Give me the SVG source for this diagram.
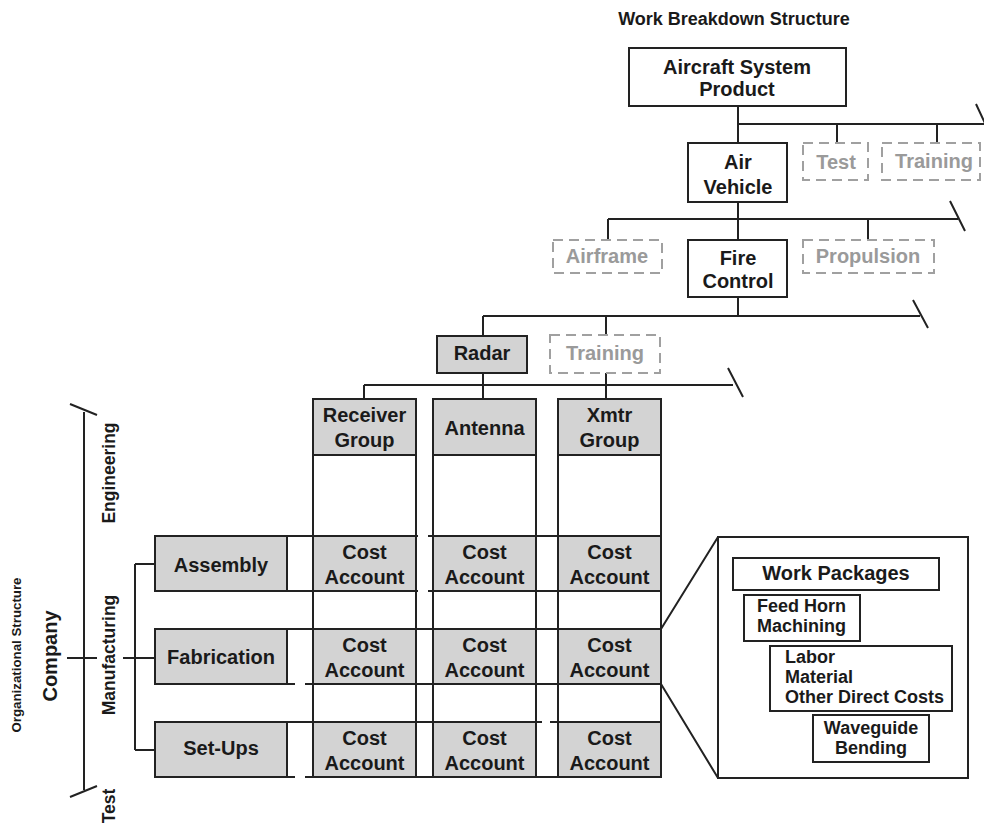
<svg xmlns="http://www.w3.org/2000/svg" width="984" height="825" viewBox="0 0 984 825">
<style>
text{font-family:"Liberation Sans",Arial,sans-serif;font-weight:bold;fill:#1a1a1a}
.n{font-size:20px;text-anchor:middle}
.s{font-size:18px}
.g{fill:#9a9a9a}
.box{fill:#fff;stroke:#222;stroke-width:2}
.gray{fill:#d3d3d3;stroke:#222;stroke-width:2}
.dash{fill:none;stroke:#a0a0a0;stroke-width:2;stroke-dasharray:10 6}
.ln{stroke:#222;stroke-width:2;fill:none}
</style>
<rect width="984" height="825" fill="#fff"/>
<text x="734" y="25" style="font-size:18px;text-anchor:middle">Work Breakdown Structure</text>

<g id="connectors" class="ln">
  <path d="M738 106V143M738 124H984M837 124V143M937 124V143M976 104L990 134"/>
  <path d="M738 202V240M608 219H958M608 219V240M868 219V240M950 201L965 231"/>
  <path d="M738 297V316M483 316H920M483 316V336M606 316V335M913 300L928 328"/>
  <path d="M483 373V399M364 385H733M364 385V399M606 373V399M728 368L743 397"/>
  <path d="M313 455V777M416 455V777M433 455V777M536 455V777M558 455V777M661 455V777"/>
  <path d="M287 536H313M416 536H418M428 536H433M536 536H558M287 591H313M416 591H418M428 591H433M536 591H558"/>
  <path d="M287 629H313M416 629H433M536 629H558M287 684H295M305 684H313M416 684H433M536 684H558"/>
  <path d="M287 722H313M416 722H433M536 722H542M550 722H558M287 777H295M305 777H313M416 777H433M536 777H558"/>
  <path d="M84 412V790M70 404L97 415M70 797L97 786M67 658H97"/>
  <path d="M123 658H155M135 564V750M135 564H155M135 750H155"/>
  <path d="M661 629L718 537M661 684L718 778"/>
</g>

<g id="aircraft"><rect class="box" x="629" y="48" width="217" height="58"/><text class="n" x="737" y="74">Aircraft System</text><text class="n" x="737" y="96">Product</text></g>
<g id="airvehicle"><rect class="box" x="688" y="143" width="99" height="59"/><text class="n" x="738" y="169">Air</text><text class="n" x="738" y="194">Vehicle</text></g>
<g id="test"><rect class="dash" x="803" y="143" width="65" height="37"/><text class="n g" x="836" y="169">Test</text></g>
<g id="training1"><rect class="dash" x="882" y="143" width="98" height="37"/><text class="n g" x="934" y="168">Training</text></g>
<g id="airframe"><rect class="dash" x="553" y="240" width="109" height="33"/><text class="n g" x="607" y="263">Airframe</text></g>
<g id="firecontrol"><rect class="box" x="688" y="240" width="99" height="57"/><text class="n" x="738" y="265">Fire</text><text class="n" x="738" y="288">Control</text></g>
<g id="propulsion"><rect class="dash" x="803" y="240" width="131" height="33"/><text class="n g" x="868" y="263">Propulsion</text></g>
<g id="radar"><rect class="gray" x="437" y="336" width="90" height="37"/><text class="n" x="482" y="360">Radar</text></g>
<g id="training2"><rect class="dash" x="550" y="335" width="110" height="38"/><text class="n g" x="605" y="360">Training</text></g>

<g id="receiver"><rect class="gray" x="313" y="399" width="103" height="56"/><text class="n" x="364.5" y="422">Receiver</text><text class="n" x="364.5" y="447">Group</text></g>
<g id="antenna"><rect class="gray" x="433" y="399" width="103" height="56"/><text class="n" x="484.5" y="435">Antenna</text></g>
<g id="xmtr"><rect class="gray" x="558" y="399" width="103" height="56"/><text class="n" x="609.5" y="422">Xmtr</text><text class="n" x="609.5" y="447">Group</text></g>

<g id="assembly"><rect class="gray" x="155" y="536" width="132" height="55"/><text class="n" x="221" y="572">Assembly</text></g>
<g id="fabrication"><rect class="gray" x="155" y="629" width="132" height="55"/><text class="n" x="221" y="664">Fabrication</text></g>
<g id="setups"><rect class="gray" x="155" y="722" width="132" height="55"/><text class="n" x="221" y="755">Set-Ups</text></g>

<g id="ca11"><rect class="gray" x="313" y="536" width="103" height="55"/><text class="n" x="364.5" y="559">Cost</text><text class="n" x="364.5" y="584">Account</text></g>
<g id="ca12"><rect class="gray" x="433" y="536" width="103" height="55"/><text class="n" x="484.5" y="559">Cost</text><text class="n" x="484.5" y="584">Account</text></g>
<g id="ca13"><rect class="gray" x="558" y="536" width="103" height="55"/><text class="n" x="609.5" y="559">Cost</text><text class="n" x="609.5" y="584">Account</text></g>
<g id="ca21"><rect class="gray" x="313" y="629" width="103" height="55"/><text class="n" x="364.5" y="652">Cost</text><text class="n" x="364.5" y="677">Account</text></g>
<g id="ca22"><rect class="gray" x="433" y="629" width="103" height="55"/><text class="n" x="484.5" y="652">Cost</text><text class="n" x="484.5" y="677">Account</text></g>
<g id="ca23"><rect class="gray" x="558" y="629" width="103" height="55"/><text class="n" x="609.5" y="652">Cost</text><text class="n" x="609.5" y="677">Account</text></g>
<g id="ca31"><rect class="gray" x="313" y="722" width="103" height="55"/><text class="n" x="364.5" y="745">Cost</text><text class="n" x="364.5" y="770">Account</text></g>
<g id="ca32"><rect class="gray" x="433" y="722" width="103" height="55"/><text class="n" x="484.5" y="745">Cost</text><text class="n" x="484.5" y="770">Account</text></g>
<g id="ca33"><rect class="gray" x="558" y="722" width="103" height="55"/><text class="n" x="609.5" y="745">Cost</text><text class="n" x="609.5" y="770">Account</text></g>

<g id="org">
  <text x="0" y="0" transform="translate(21 655) rotate(-90)" style="font-size:12px;text-anchor:middle" textLength="155" lengthAdjust="spacingAndGlyphs">Organizational Structure</text>
  <text x="0" y="0" transform="translate(57 656) rotate(-90)" style="font-size:20px;text-anchor:middle">Company</text>
  <text x="0" y="0" transform="translate(115 473) rotate(-90)" style="font-size:17.5px;text-anchor:middle">Engineering</text>
  <text x="0" y="0" transform="translate(115 655) rotate(-90)" style="font-size:17.5px;text-anchor:middle">Manufacturing</text>
  <text x="0" y="0" transform="translate(115 806) rotate(-90)" style="font-size:17.5px;text-anchor:middle">Test</text>
</g>

<g id="workpackages">
  <rect class="box" x="718" y="537" width="250" height="241"/>
  <rect class="box" x="733" y="558" width="206" height="32"/>
  <text class="n" x="836" y="580">Work Packages</text>
  <rect class="box" x="744" y="595" width="116" height="46"/>
  <text class="s" x="757" y="612">Feed Horn</text>
  <text class="s" x="757" y="632">Machining</text>
  <rect class="box" x="770" y="646" width="182" height="65"/>
  <text class="s" x="785" y="663">Labor</text>
  <text class="s" x="785" y="683">Material</text>
  <text class="s" x="785" y="703">Other Direct Costs</text>
  <rect class="box" x="813" y="715" width="116" height="47"/>
  <text class="s" x="871" y="734" text-anchor="middle">Waveguide</text>
  <text class="s" x="871" y="754" text-anchor="middle">Bending</text>
</g>
</svg>
